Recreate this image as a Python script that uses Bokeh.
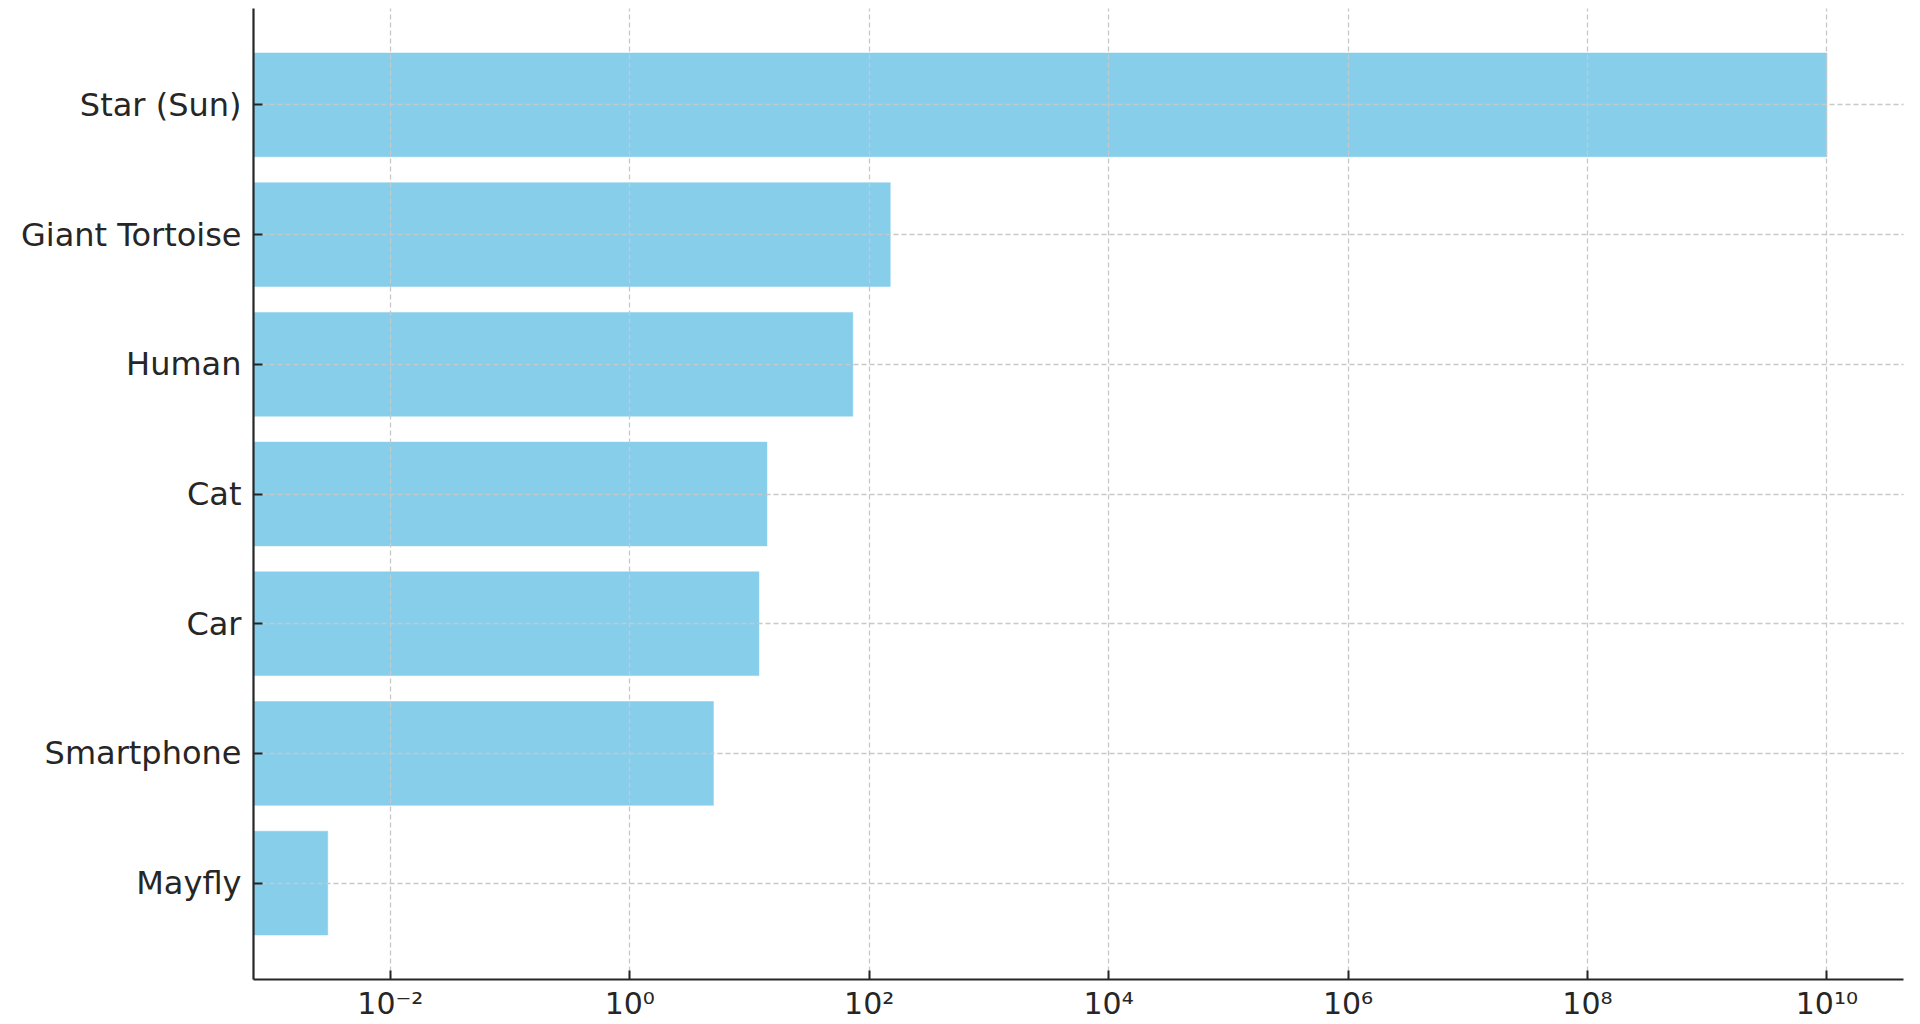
from bokeh.plotting import figure
from bokeh.models import Range1d, FactorRange, FixedTicker, CustomJSTickFormatter
from bokeh.embed import file_html
from bokeh.resources import INLINE

# ---- data ----
categories = ["Mayfly", "Smartphone", "Car", "Cat", "Human", "Giant Tortoise", "Star (Sun)"]
lifespan_years = [0.003, 5, 12, 14, 73, 150, 1e10]
x_tick_values = [1e-2, 1e0, 1e2, 1e4, 1e6, 1e8, 1e10]
x_tick_labels = ["10\u207b\u00b2", "10\u2070", "10\u00b2", "10\u2074", "10\u2076", "10\u2078", "10\u00b9\u2070"]

# ---- layout / style ----
x_start = 10 ** -3.143
x_end = 10 ** 10.64
bar_base = 1e-4
text_color = "#262626"
font = "DejaVu Sans"

p = figure(
    width=1920, height=1024,
    x_axis_type="log",
    x_range=Range1d(x_start, x_end),
    y_range=FactorRange(factors=categories, range_padding=0.243,
                        range_padding_units="absolute"),
    output_backend="svg", toolbar_location=None,
    min_border_left=253, min_border_right=17,
    min_border_top=8, min_border_bottom=45,
)
p.background_fill_color = "white"
p.border_fill_color = "white"
p.outline_line_color = None

p.hbar(y=categories, right=lifespan_years, left=bar_base, height=0.8,
       fill_color="#87CEEB", line_color="#87CEEB", line_width=0.5)

for ax in (p.xaxis[0], p.yaxis[0]):
    ax.level = "overlay"
    ax.axis_line_color = text_color
    ax.axis_line_width = 2.2
    ax.major_tick_line_color = text_color
    ax.major_tick_line_width = 2
    ax.major_tick_in = 9
    ax.major_tick_out = 0
    ax.minor_tick_in = 0
    ax.minor_tick_out = 0
    ax.major_label_text_color = text_color
    ax.major_label_text_font = font

p.xaxis.ticker = FixedTicker(ticks=x_tick_values, minor_ticks=[])
p.xaxis.formatter = CustomJSTickFormatter(
    args=dict(vals=x_tick_values, labels=x_tick_labels),
    code="""
        let best = 0, bd = Infinity;
        for (let i = 0; i < vals.length; i++) {
            const d = Math.abs(Math.log10(vals[i]) - Math.log10(tick));
            if (d < bd) { bd = d; best = i; }
        }
        return labels[best];
    """)
p.xaxis.major_label_text_font_size = "30px"
p.xaxis.major_label_standoff = 6

p.yaxis.major_label_text_font_size = "32px"
p.yaxis.major_label_standoff = 12

p.grid.grid_line_color = "#c8c8c8"
p.grid.grid_line_width = 1.3
p.grid.grid_line_dash = "5 3"
p.grid.level = "annotation"

open("out.html", "w").write(file_html(p, INLINE))
